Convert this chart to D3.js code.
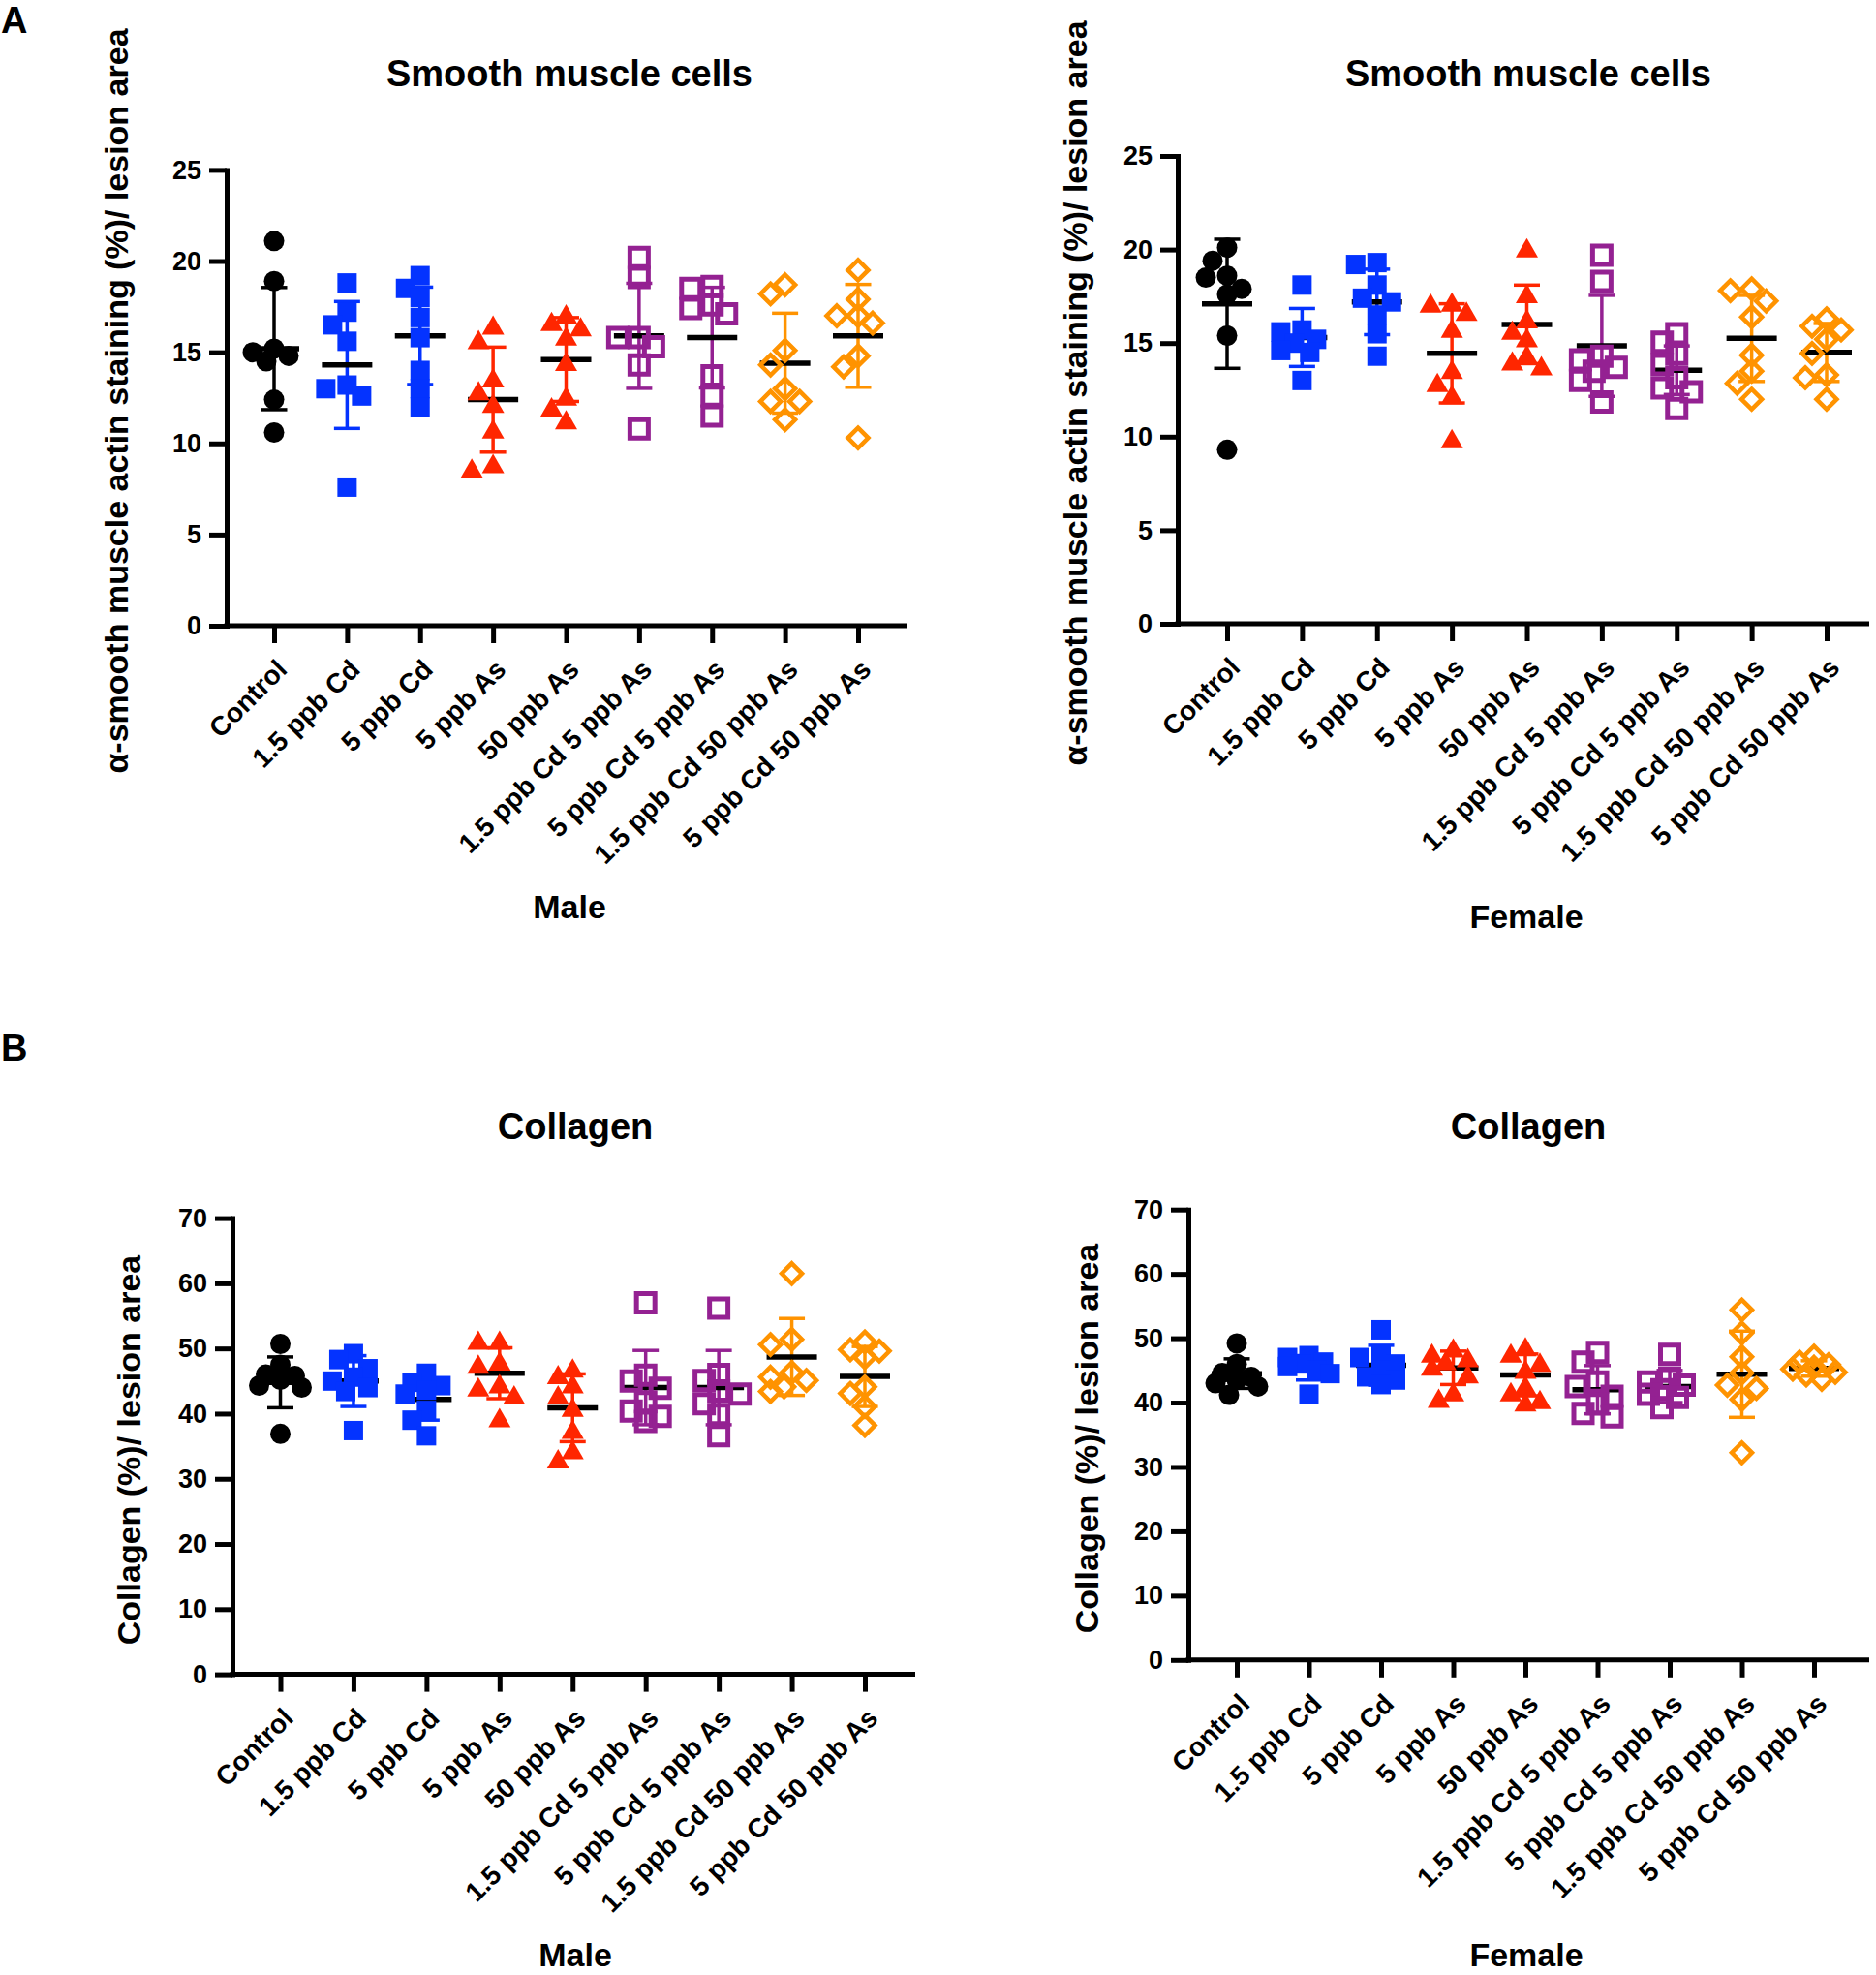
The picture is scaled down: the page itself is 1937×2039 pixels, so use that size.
<!DOCTYPE html>
<html><head><meta charset="utf-8">
<script src="https://cdn.jsdelivr.net/npm/d3@7"></script>
<style>
body{margin:0;background:#fff}
svg{display:block}
text{font-family:"Liberation Sans",Arial,Helvetica,sans-serif;font-weight:bold;fill:#000}
</style>
</head><body>
<svg id="chart" width="1937" height="2039"></svg>
<script>
// ---------------- data ----------------
const categories = ["Control","1.5 ppb Cd","5 ppb Cd","5 ppb As","50 ppb As",
  "1.5 ppb Cd 5 ppb As","5 ppb Cd 5 ppb As","1.5 ppb Cd 50 ppb As","5 ppb Cd 50 ppb As"];
const groupColors = ["#000000","#0433FF","#0433FF","#FF2600","#FF2600","#942192","#942192","#FF9300","#FF9300"];
const groupShapes = ["circle","square","square","triangle","triangle","openSquare","openSquare","openDiamond","openDiamond"];

const smcTicks = [0,5,10,15,20,25];
const collagenTicks = [0,10,20,30,40,50,60,70];

// Panel A, male: smooth muscle cells
const smcMaleValues = [
  [21.1,18.9,15.2,15.0,14.8,14.5,12.4,10.6],
  [18.8,17.2,16.5,15.6,13.2,13.0,12.6,7.6],
  [19.2,18.5,18.0,16.9,15.8,14.0,13.0,12.0],
  [16.5,15.7,13.6,12.9,12.2,10.8,8.9,8.65],
  [17.1,16.7,16.4,15.9,14.5,12.6,12.0,11.3],
  [20.2,19.1,15.8,15.8,15.3,14.3,10.8],
  [18.6,18.5,17.6,17.4,17.1,13.7,12.6,11.5],
  [18.7,18.2,15.1,14.3,13.0,12.3,12.3,11.3],
  [19.5,17.9,17.0,17.0,16.6,14.8,14.2,10.3]
];
const smcMaleMeans = [15.2,14.3,15.9,12.4,14.6,15.9,15.8,14.4,15.9];
const smcMaleSDs   = [3.35,3.48,2.67,2.88,2.3,2.88,2.76,2.74,2.82];

// Panel A, female: smooth muscle cells
const smcFemaleValues = [
  [20.1,19.4,18.6,18.5,17.9,17.6,15.4,9.3],
  [18.1,15.7,15.6,15.2,15.0,14.6,14.5,13.0],
  [19.3,19.2,18.1,17.4,17.2,16.5,15.5,14.3],
  [17.2,17.15,16.7,15.8,13.6,12.9,12.25,9.9],
  [20.1,17.65,16.3,15.7,15.3,14.4,14.05,13.8],
  [19.7,18.3,14.3,14.1,13.7,13.5,13.0,11.85],
  [15.5,15.05,14.4,13.85,13.15,12.6,12.4,11.5],
  [17.9,17.8,17.25,16.4,14.35,13.5,12.85,12.0],
  [16.3,15.9,15.7,15.2,14.45,13.3,13.15,12.0]
];
const smcFemaleMeans = [17.1,15.3,17.2,14.45,16.0,14.85,13.55,15.25,14.5];
const smcFemaleSDs   = [3.45,1.55,1.75,2.65,2.1,2.7,1.3,2.3,1.55];

// Panel B, male: collagen
const colMaleValues = [
  [50.7,47.5,46.0,45.8,45.2,44.3,44.0,36.9],
  [49.2,48.3,46.9,45.6,45.0,44.0,43.4,37.4],
  [46.2,44.8,44.3,43.6,43.0,40.5,39.0,36.6],
  [51.3,51.3,48.1,47.6,44.6,44.1,42.9,39.4],
  [47.0,46.0,44.6,42.9,41.0,37.6,34.5,33.1],
  [57.0,45.9,45.0,43.9,41.8,40.4,39.6,38.8],
  [56.2,46.0,45.1,43.5,43.0,41.5,39.9,36.6],
  [61.5,51.4,50.6,46.3,45.6,45.1,44.1,43.4],
  [51.0,49.8,49.6,48.6,44.1,43.1,41.1,38.2]
];
const colMaleMeans = [44.8,45.0,42.2,46.2,40.9,44.0,44.0,48.7,45.7];
const colMaleSDs   = [3.9,3.9,3.2,3.9,5.2,5.7,5.7,5.9,4.6];

// Panel B, female: collagen
const colFemaleValues = [
  [49.2,46.0,44.6,44.0,43.5,43.0,42.5,41.2],
  [47.3,47.0,46.3,46.0,45.6,45.0,44.5,41.3],
  [51.3,47.5,47.0,46.0,45.0,44.0,43.5,42.8],
  [48.5,47.7,47.0,46.5,45.7,44.5,41.7,40.7],
  [48.7,47.7,46.3,45.2,42.7,41.7,40.5,40.1],
  [47.8,46.3,43.2,42.5,41.0,39.8,38.3,37.8],
  [47.5,43.8,43.2,42.7,42.0,41.3,40.8,39.2],
  [54.4,50.8,47.1,44.6,42.7,42.2,40.5,32.2],
  [47.2,46.3,45.9,45.5,45.2,44.7,44.3,43.6]
];
const colFemaleMeans = [44.5,45.4,45.8,45.4,44.3,42.0,42.5,44.4,45.3];
const colFemaleSDs   = [2.3,1.9,3.1,2.6,3.25,3.75,2.5,6.7,1.2];

// ---------------- layout ----------------
const panels = [
  {values:smcMaleValues, means:smcMaleMeans, sds:smcMaleSDs, yMax:25, ticks:smcTicks,
   axisX:234, y0:646, yTop:175.4, xFirst:283, xLast:886, xEnd:937,
   title:"Smooth muscle cells", titleX:588, titleY:89,
   yLabel:"α-smooth muscle actin staining (%)/ lesion area", yLabelX:132, yLabelY:414,
   xLabel:"Male", xLabelX:588, xLabelY:948},
  {values:smcFemaleValues, means:smcFemaleMeans, sds:smcFemaleSDs, yMax:25, ticks:smcTicks,
   axisX:1216, y0:644, yTop:161, xFirst:1267, xLast:1886, xEnd:1930,
   title:"Smooth muscle cells", titleX:1578, titleY:89,
   yLabel:"α-smooth muscle actin staining (%)/ lesion area", yLabelX:1122, yLabelY:406,
   xLabel:"Female", xLabelX:1576, xLabelY:958},
  {values:colMaleValues, means:colMaleMeans, sds:colMaleSDs, yMax:70, ticks:collagenTicks,
   axisX:240, y0:1728.6, yTop:1257.6, xFirst:289.5, xLast:893, xEnd:945,
   title:"Collagen", titleX:594, titleY:1176,
   yLabel:"Collagen (%)/ lesion area", yLabelX:145, yLabelY:1497,
   xLabel:"Male", xLabelX:594, xLabelY:2030},
  {values:colFemaleValues, means:colFemaleMeans, sds:colFemaleSDs, yMax:70, ticks:collagenTicks,
   axisX:1227, y0:1713.8, yTop:1248.7, xFirst:1277, xLast:1873, xEnd:1930,
   title:"Collagen", titleX:1578, titleY:1176,
   yLabel:"Collagen (%)/ lesion area", yLabelX:1134, yLabelY:1485,
   xLabel:"Female", xLabelX:1576, xLabelY:2030}
];

const svg = d3.select("#chart");

svg.append("text").attr("x",1).attr("y",34).attr("font-size",38).text("A");
svg.append("text").attr("x",1).attr("y",1095).attr("font-size",38).text("B");

function symbolPath(shape){
  switch(shape){
    case "circle": return d3.symbol(d3.symbolCircle, Math.PI*10.5*10.5)();
    case "square": return "M-10,-10H10V10H-10Z";
    case "triangle": return "M0,-10L11.5,10L-11.5,10Z";
    case "openSquare": return "M-9.5,-9.5H9.5V9.5H-9.5Z";
    case "openDiamond": return "M0,-10.5L10.5,0L0,10.5L-10.5,0Z";
  }
}

// compact scatter placement (computed from values, not typed)
function dodge(vals, y){
  const order = vals.map((v,i)=>i).sort((a,b)=>vals[b]-vals[a]);
  const placed = [];
  const offsets = new Array(vals.length).fill(0);
  const cands = [0,-15,15,-8,8,-22,22];
  const dmin = 16;
  for(const i of order){
    const py = y(vals[i]);
    let chosen = null, best = -1, bestC = 0;
    for(const c of cands){
      const d = placed.length ? d3.min(placed, p => Math.hypot(p.x-c, p.y-py)) : Infinity;
      if(d >= dmin){ chosen = c; break; }
      if(d > best){ best = d; bestC = c; }
    }
    if(chosen === null) chosen = bestC;
    offsets[i] = chosen;
    placed.push({x:chosen, y:py});
  }
  return offsets;
}

panels.forEach(p => {
  const g = svg.append("g");
  const y = d3.scaleLinear().domain([0,p.yMax]).range([p.y0,p.yTop]);
  const x = d3.scalePoint().domain(categories).range([p.xFirst,p.xLast]);

  // y axis
  const ya = g.append("g").attr("transform",`translate(${p.axisX},0)`)
    .call(d3.axisLeft(y).tickValues(p.ticks).tickSize(18).tickSizeOuter(0).tickPadding(8));
  ya.attr("font-family",null).attr("font-size",null);
  ya.select(".domain").attr("stroke","#000").attr("stroke-width",5).attr("stroke-linecap","square");
  ya.selectAll(".tick line").attr("stroke","#000").attr("stroke-width",5);
  ya.selectAll(".tick text").attr("font-size",27).attr("fill","#000");

  // x axis
  const xa = g.append("g").attr("transform",`translate(0,${p.y0})`)
    .call(d3.axisBottom(x).tickSize(18).tickSizeOuter(0).tickFormat(""));
  xa.select(".domain").remove();
  xa.selectAll(".tick line").attr("stroke","#000").attr("stroke-width",5);
  g.append("line").attr("x1",p.axisX-2.5).attr("x2",p.xEnd)
    .attr("y1",p.y0).attr("y2",p.y0).attr("stroke","#000").attr("stroke-width",5);

  // rotated category labels
  g.selectAll("text.cat").data(categories).join("text").attr("class","cat")
    .attr("font-size",28).attr("text-anchor","end").attr("dy","0.35em")
    .attr("transform",d=>`translate(${x(d)+8},${p.y0+40}) rotate(-45)`)
    .text(d=>d);

  // error bars + means (drawn under symbols)
  categories.forEach((c,i)=>{
    const cx = x(c), m = p.means[i], s = p.sds[i], col = groupColors[i];
    const eb = g.append("g").attr("stroke",col).attr("stroke-width",3.5);
    eb.append("line").attr("x1",cx).attr("x2",cx).attr("y1",y(m+s)).attr("y2",y(m-s));
    eb.append("line").attr("x1",cx-13.5).attr("x2",cx+13.5).attr("y1",y(m+s)).attr("y2",y(m+s));
    eb.append("line").attr("x1",cx-13.5).attr("x2",cx+13.5).attr("y1",y(m-s)).attr("y2",y(m-s));
    g.append("line").attr("x1",cx-26).attr("x2",cx+26).attr("y1",y(m)).attr("y2",y(m))
      .attr("stroke","#000").attr("stroke-width",5.5);
  });

  // points
  categories.forEach((c,i)=>{
    const vals = p.values[i];
    const offs = dodge(vals,y);
    const shape = groupShapes[i], col = groupColors[i];
    const open = shape.startsWith("open");
    g.append("g").selectAll("path").data(vals).join("path")
      .attr("d",symbolPath(shape))
      .attr("transform",(v,j)=>`translate(${x(c)+offs[j]},${y(v)})`)
      .attr("fill",open?"none":col)
      .attr("stroke",open?col:"none")
      .attr("stroke-width",open?(shape==="openSquare"?5:4.5):0)
      .attr("stroke-linejoin","miter");
  });

  // titles
  g.append("text").attr("x",p.titleX).attr("y",p.titleY).attr("text-anchor","middle")
    .attr("font-size",38).text(p.title);
  g.append("text").attr("transform",`translate(${p.yLabelX},${p.yLabelY}) rotate(-90)`)
    .attr("text-anchor","middle").attr("font-size",34).text(p.yLabel);
  g.append("text").attr("x",p.xLabelX).attr("y",p.xLabelY).attr("text-anchor","middle")
    .attr("font-size",34).text(p.xLabel);
});
</script>
</body></html>
